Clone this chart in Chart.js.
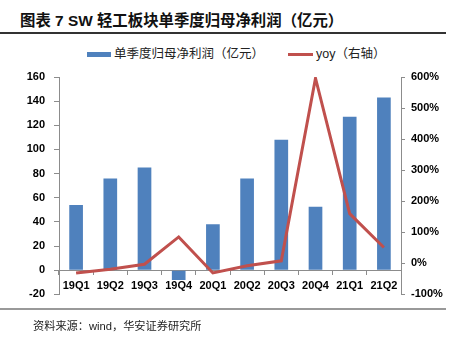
<!DOCTYPE html>
<html>
<head>
<meta charset="utf-8">
<script src="https://cdn.jsdelivr.net/npm/chart.js@4.4.0/dist/chart.umd.min.js"></script>
<style>
  html, body { margin: 0; padding: 0; background: #fff; }
  body { width: 454px; height: 344px; position: relative; overflow: hidden;
         font-family: "Liberation Sans", Arial, "Noto Sans CJK SC", sans-serif; }
  #title { position: absolute; left: 20px; top: 8px; font-size: 15.4px; font-weight: bold; color: #111;
           font-family: "Liberation Sans", Arial, "Noto Sans CJK SC", sans-serif; white-space: nowrap; }
  #topline { position: absolute; left: 0; top: 32px; width: 446px; height: 2px; background: #333; }
  #botline { position: absolute; left: 0; top: 308px; width: 446px; height: 2px; background: #999; }
  #source { position: absolute; left: 33px; top: 317px; font-size: 11.2px; color: #222; white-space: nowrap;
            font-family: "Liberation Sans", Arial, "Noto Sans CJK SC", sans-serif; }
  #legend { position: absolute; top: 43px; left: 87px; font-size: 12.5px; color: #222; white-space: nowrap;
            font-family: "Liberation Sans", Arial, "Noto Sans CJK SC", sans-serif; }
  .li { position: absolute; top: 0; white-space: nowrap; }
  .sw { display: inline-block; vertical-align: middle; margin-right: 3px; }
  #wrap { position: absolute; left: 0; top: 60px; width: 454px; height: 250px; }
</style>
</head>
<body>
<div id="title">图表 7 SW 轻工板块单季度归母净利润（亿元）</div>
<div id="topline"></div>
<div id="legend">
  <span class="li" style="left:0"><span class="sw" style="width:24px;height:5px;background:#4F81BD;"></span>单季度归母净利润（亿元）</span>
  <span class="li" style="left:201px"><span class="sw" style="width:25px;height:3px;background:#C0504D;"></span>yoy（右轴）</span>
</div>
<div id="wrap"><canvas id="c" width="454" height="250"></canvas></div>
<div id="botline"></div>
<div id="source">资料来源：wind，华安证券研究所</div>
<script>
const categories = ['19Q1','19Q2','19Q3','19Q4','20Q1','20Q2','20Q3','20Q4','21Q1','21Q2'];
const profit = [54, 76, 85, -8, 38, 76, 108, 52.5, 127, 143];
const yoy = [-31, -19, -3, 85, -31, -8, 8, 596, 160, 51];
const leftTicks = [-20, 0, 20, 40, 60, 80, 100, 120, 140, 160];
const rightTicks = [-100, 0, 100, 200, 300, 400, 500, 600];

const axisColor = '#8c8c8c';
const tickFont = { family: '"Liberation Sans", Arial, sans-serif', size: 11, weight: 'bold' };

new Chart(document.getElementById('c'), {
  data: {
    labels: categories,
    datasets: [
      { type: 'line', label: 'yoy（右轴）', data: yoy, yAxisID: 'y1', borderColor: '#C0504D',
        borderWidth: 3, pointRadius: 0, tension: 0, order: 0 },
      { type: 'bar', label: '单季度归母净利润（亿元）', data: profit, yAxisID: 'y', backgroundColor: '#4F81BD',
        barPercentage: 0.4, categoryPercentage: 1, order: 1 }
    ]
  },
  options: {
    responsive: false,
    animation: false,
    events: [],
    layout: { padding: { top: 17, bottom: 8, left: 0, right: 0 } },
    plugins: { legend: { display: false }, tooltip: { enabled: false } },
    scales: {
      x: {
        position: { y: 0 },
        offset: true,
        grid: { display: true, drawOnChartArea: false, drawTicks: true, tickLength: 4, color: axisColor, offset: true },
        border: { display: true, color: axisColor, width: 1 },
        ticks: { color: '#000', font: tickFont, padding: 5, maxRotation: 0, autoSkip: false }
      },
      y: {
        position: 'left',
        min: -20, max: 160,
        afterBuildTicks: s => { s.ticks = leftTicks.map(v => ({ value: v })); },
        afterFit: s => { s.width = 59; },
        grid: { drawOnChartArea: false, drawTicks: true, tickLength: 5, color: axisColor },
        border: { display: true, color: axisColor, width: 1 },
        ticks: { color: '#000', font: tickFont, padding: 9 }
      },
      y1: {
        position: 'right',
        min: -100, max: 600,
        afterBuildTicks: s => { s.ticks = rightTicks.map(v => ({ value: v })); },
        afterFit: s => { s.width = 53; },
        grid: { drawOnChartArea: false, drawTicks: true, tickLength: 4, color: axisColor },
        border: { display: true, color: axisColor, width: 1 },
        ticks: { color: '#000', font: tickFont, padding: 6, callback: v => v + '%' }
      }
    }
  }
});
</script>
</body>
</html>
